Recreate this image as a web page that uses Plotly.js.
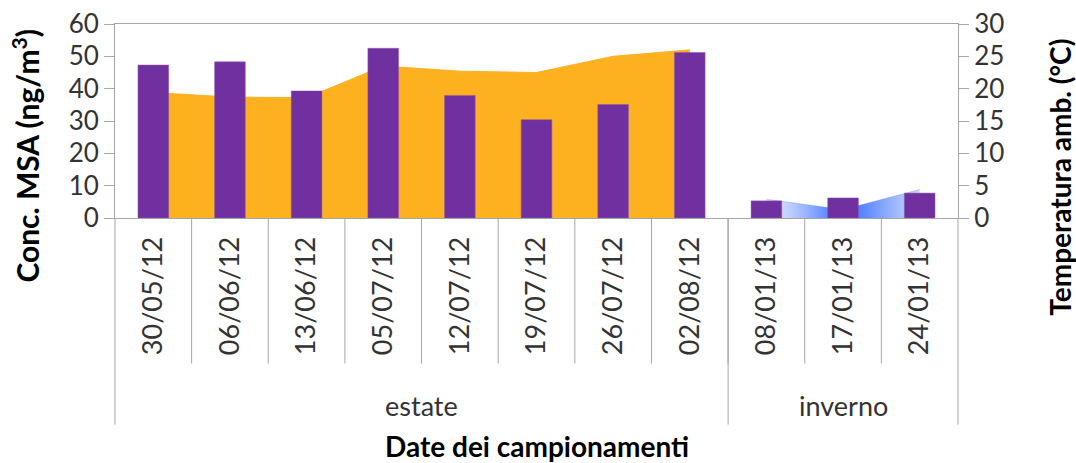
<!DOCTYPE html>
<html>
<head>
<meta charset="utf-8">
<script src="https://cdn.plot.ly/plotly-3.0.1.min.js"></script>
<style>html,body{margin:0;padding:0;background:#fff;}#chart{width:1076px;height:463px;}</style>
</head>
<body>
<div id="chart"></div>
<script>
// ---- data ----
const dates = ["30/05/12","06/06/12","13/06/12","05/07/12","12/07/12","19/07/12","26/07/12","02/08/12","08/01/13","17/01/13","24/01/13"];
const seasons = ["estate","estate","estate","estate","estate","estate","estate","estate","inverno","inverno","inverno"];
const msa = [47.3, 48.3, 39.3, 52.5, 37.9, 30.4, 35.1, 51.2, 5.3, 6.2, 7.7];
const summerDates = ["30/05/12","06/06/12","13/06/12","05/07/12","12/07/12","19/07/12","26/07/12","02/08/12"];
const summerTemp = [19.4, 18.7, 18.6, 23.5, 22.7, 22.5, 25.0, 26.0];
const winterDates = ["08/01/13","17/01/13","24/01/13"];
const winterTemp = [2.9, 1.3, 4.4];
const groupNames = ["estate","inverno"];

// ---- styling ----
const FONT = "Lato, 'Open Sans', sans-serif";
const AXC = "#A6A6A6";
const TXT = "#333333";
const N = dates.length;

const groups = groupNames.map(g => {
  const idx = seasons.map((s,i)=> s===g ? i : -1).filter(i=>i>=0);
  return {name:g, start:idx[0], end:idx[idx.length-1]};
});

const shapes = [];
for (let i = 1; i < N; i++) {
  shapes.push({type:'line', xref:'x domain', yref:'paper', x0:i/N, x1:i/N, y0:0, y1:-0.75, line:{color:AXC, width:1}});
}
const gb = new Set([0, N]);
groups.forEach(g => { gb.add(g.start); gb.add(g.end+1); });
[...gb].forEach(b => {
  shapes.push({type:'line', xref:'x domain', yref:'paper', x0:b/N, x1:b/N, y0:0, y1:-1.065, line:{color:AXC, width:1}});
});

const annotations = groups.map(g => ({
  text: g.name, xref:'x', yref:'paper', x:(g.start+g.end)/2, y:-0.965,
  showarrow:false, font:{family:FONT, size:27, color:TXT}, yanchor:'middle'
}));
annotations.push({text:'<b>Date dei campionamenti</b>', xref:'paper', yref:'paper', x:0.5, y:-1.175,
  showarrow:false, font:{family:FONT, size:28, color:'#000'}, yanchor:'middle'});
annotations.push({text:'<b>Conc. MSA (ng/m<sup>3</sup>)</b>', xref:'paper', yref:'paper', x:-0.106, y:0.32,
  textangle:-90, showarrow:false, font:{family:FONT, size:30, color:'#000'}, xanchor:'center', yanchor:'middle'});
annotations.push({text:'<b>Temperatura amb. (°C)</b>', xref:'paper', yref:'paper', x:1.1205, y:0.211,
  textangle:-90, showarrow:false, font:{family:FONT, size:28, color:'#000'}, xanchor:'center', yanchor:'middle'});

const traces = [
  {type:'scatter', x:summerDates, y:summerTemp, yaxis:'y', mode:'lines', fill:'tozeroy',
   line:{color:'#FDB11E', width:1, shape:'linear'}, fillcolor:'#FDB11E', hoverinfo:'skip'},
  {type:'scatter', x:winterDates, y:winterTemp, yaxis:'y', mode:'lines', fill:'tozeroy',
   line:{color:'rgba(120,150,255,0.4)', width:1},
   fillgradient:{type:'horizontal', colorscale:[[0,'rgba(215,225,255,0.6)'],[0.5,'#2F66FF'],[1,'rgba(200,215,250,0.9)']]},
   hoverinfo:'skip'},
  {type:'bar', x:dates, y:msa, yaxis:'y2', marker:{color:'#7030A0', line:{color:'#8A55B5', width:0.5}}}
];

const layout = {
  width:1076, height:463,
  margin:{l:115, r:118, t:24, b:245},
  paper_bgcolor:'#fff', plot_bgcolor:'rgba(0,0,0,0)',
  showlegend:false, bargap:0.6,
  font:{family:FONT, color:TXT},
  xaxis:{type:'category', categoryorder:'array', categoryarray:dates, range:[-0.5, N-0.5],
    showline:true, linecolor:AXC, linewidth:1, mirror:true, ticks:'', tickangle:-90,
    ticklabelstandoff:7, tickfont:{family:FONT, size:27, color:TXT}, showgrid:false, zeroline:false},
  yaxis:{side:'right', range:[0,30], dtick:5, tick0:0, ticks:'outside', ticklen:10, tickcolor:AXC,
    showline:true, linecolor:AXC, showgrid:false, zeroline:false,
    tickfont:{family:FONT, size:26, color:TXT}},
  yaxis2:{side:'left', overlaying:'y', range:[0,60], dtick:10, tick0:0, ticks:'outside', ticklen:10, tickcolor:AXC,
    showline:true, linecolor:AXC, showgrid:false, zeroline:false,
    tickfont:{family:FONT, size:26, color:TXT}},
  shapes:shapes, annotations:annotations
};

Plotly.newPlot('chart', traces, layout, {displayModeBar:false, staticPlot:true});
</script>
</body>
</html>
